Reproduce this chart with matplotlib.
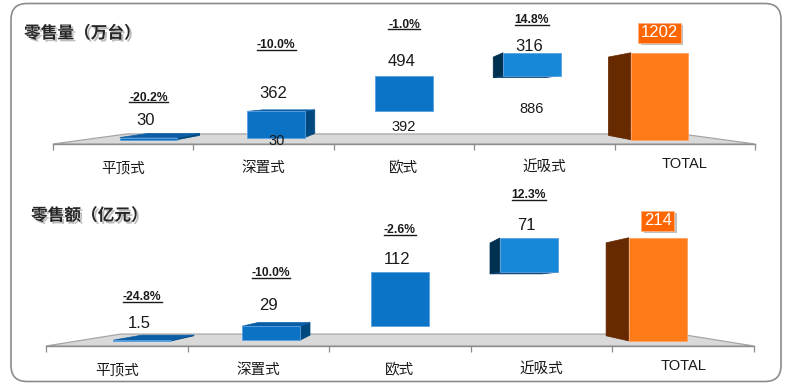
import numpy as np
import matplotlib
matplotlib.use("Agg")
import matplotlib.pyplot as plt
import matplotlib.patheffects as pe
from matplotlib.patches import Polygon, FancyBboxPatch, Rectangle
from matplotlib.lines import Line2D

plt.rcParams['font.family'] = ['Liberation Sans', 'Noto Sans CJK SC']

# ---------------- data ----------------
categories = ['平顶式', '深置式', '欧式', '近吸式', 'TOTAL']

vol_title = '零售量（万台）'
vol_values = [30, 362, 494, 316]
vol_total = 1202
vol_growth = ['-20.2%', '-10.0%', '-1.0%', '14.8%']

amt_title = '零售额（亿元）'
amt_values = [1.5, 29, 112, 71]
amt_total = 214
amt_growth = ['-24.8%', '-10.0%', '-2.6%', '12.3%']

# ---------------- style / layout ----------------
W, H = 790, 387
PT = 0.72  # points per pixel at dpi 100
D_FRONT, D_BACK, D_FLOOR = 0.91, 0.82, 0.79
BAR_W = 0.45
BLUE_FRONT = ['#0B6CB9', '#0B72C4', '#0B74C7', '#1787D7']
BLUE_SIDE = '#00497F'
BLUE_SIDE_L = '#003050'
BLUE_TOP = '#0A5EA6'
OR_FRONT = '#FF7B17'
OR_SIDE = '#662900'

fig = plt.figure(figsize=(W / 100, H / 100), dpi=100)
bg = fig.add_axes([0, 0, 1, 1], zorder=0)
bg.set_xlim(0, W)
bg.set_ylim(H, 0)
bg.axis('off')
bg.add_patch(FancyBboxPatch((11, 3.5), 770, 378,
                            boxstyle='round,pad=0,rounding_size=16',
                            fc='white', ec='#8C8C8C', lw=1.2))

panels = [
    dict(title=vol_title, values=vol_values, total=vol_total, growth=vol_growth,
         rect=(53, 10, 755, 144), ytop=1686, title_xy=(24, 33),
         val_off=[17, 18, 14, 6], pct_off=[40, 66, 51, 33],
         base_off=[3, 16, 33], box_off=20, floor_shadow=True),
    dict(title=amt_title, values=amt_values, total=amt_total, growth=amt_growth,
         rect=(46, 195, 754, 346), ytop=285, title_xy=(31, 215),
         val_off=[17, 21, 13, 12], pct_off=[43, 53, 42, 43],
         base_off=None, box_off=17, floor_shadow=False),
]
cat_off = [24, 24, 24, 24, 20]

pct_texts = []
box_texts = []

for p in panels:
    x0p, y0p, x1p, y1p = p['rect']
    ax = fig.add_axes([x0p / W, (H - y1p) / H, (x1p - x0p) / W, (y1p - y0p) / H], zorder=1)
    ax.set_facecolor('none')
    ax.set_xlim(-0.5, 4.5)
    ax.set_ylim(0, p['ytop'])
    for s in ax.spines.values():
        s.set_visible(False)
    ax.set_yticks([])
    ax.set_xticks(np.arange(-0.5, 5.0, 1.0))
    ax.tick_params(axis='x', length=4, width=0.9, color='#8C8C8C', labelbottom=False)

    total = p['total']
    vx, vy = 2.0, total * 0.5

    def P(x, y, d, vx=vx, vy=vy):
        return (vx + (x - vx) * d, vy + (y - vy) * d)

    # floor
    floor = [P(-0.5, 0, 1), P(4.5, 0, 1), P(4.5, 0, D_FLOOR), P(-0.5, 0, D_FLOOR)]
    ax.add_patch(Polygon(floor, closed=True, fc='#D9D9D9', ec='#A6A6A6', lw=0.9, zorder=1))
    ax.plot([-0.5, 4.5], [0, 0], color='#8C8C8C', lw=1.0, zorder=2, clip_on=False)

    vals = np.array(p['values'], dtype=float)
    bases = np.concatenate([[0.0], np.cumsum(vals)[:-1]])
    tops = bases + vals

    def draw_box(i, b, t, cf, cs, ct, cb):
        xa, xb = i - BAR_W / 2, i + BAR_W / 2
        F = [P(xa, b, D_FRONT), P(xb, b, D_FRONT), P(xb, t, D_FRONT), P(xa, t, D_FRONT)]
        B = [P(xa, b, D_BACK), P(xb, b, D_BACK), P(xb, t, D_BACK), P(xa, t, D_BACK)]
        faces = []
        if xb < vx:
            faces.append(([F[1], B[1], B[2], F[2]], cs))
        if xa > vx:
            faces.append(([F[0], B[0], B[3], F[3]], cs))
        if t < vy:
            faces.append(([F[3], F[2], B[2], B[3]], ct))
        if b > vy:
            faces.append(([F[0], F[1], B[1], B[0]], cb))
        for poly, c in faces:
            ax.add_patch(Polygon(poly, closed=True, fc=c, ec=c, lw=0.5, zorder=3, clip_on=False))
        ax.add_patch(Polygon(F, closed=True, fc=cf, ec='#5AA0E0' if cf != OR_FRONT else '#FFA060',
                             lw=0.6, zorder=4, clip_on=False))

    if p['floor_shadow']:
        # soft shadow on the floor below the third bar
        xa_pix = ax.transData.transform(P(2 - BAR_W / 2 - 0.05, 0, D_FRONT))
        xb_pix = ax.transData.transform(P(2 + BAR_W / 2 + 0.05, 0, D_FRONT))
        cx = (xa_pix[0] + xb_pix[0]) / 2
        wd = xb_pix[0] - xa_pix[0]
        for k, a in enumerate([0.18, 0.22, 0.3]):
            ww = wd * (1 - 0.12 * k)
            hh = 6 - 1.3 * k
            bg.add_patch(FancyBboxPatch((cx - ww / 2, y1p - 9.5 + 0.6 * k), ww, hh,
                                        boxstyle='round,pad=0,rounding_size=%.1f' % (hh / 2),
                                        fc='#808080', ec='none', alpha=a, zorder=0))

    for i in range(len(vals)):
        draw_box(i, bases[i], tops[i], BLUE_FRONT[i], BLUE_SIDE if i < 2 else BLUE_SIDE_L,
                 BLUE_TOP, '#0A3F6E')
    draw_box(4, 0, total, OR_FRONT, OR_SIDE, OR_SIDE, OR_SIDE)

    # value labels and growth labels
    for i in range(len(vals)):
        xy = P(i, tops[i], D_FRONT)
        ax.annotate(f'{vals[i]:g}', xy=xy, xytext=(-2, p['val_off'][i] * PT),
                    textcoords='offset points', ha='center', va='center',
                    fontsize=12, color='#1A1A1A', zorder=6, annotation_clip=False)
        t = ax.annotate(p['growth'][i], xy=xy, xytext=(0, p['pct_off'][i] * PT),
                        textcoords='offset points', ha='center', va='center',
                        fontsize=8.7, fontweight='bold', color='#1A1A1A', zorder=6,
                        annotation_clip=False)
        pct_texts.append(t)
    if p['base_off'] is not None:
        for j, i in enumerate(range(1, len(vals))):
            xy = P(i, bases[i], D_FRONT)
            ax.annotate(f'{bases[i]:g}', xy=xy, xytext=(0, -p['base_off'][j] * PT),
                        textcoords='offset points', ha='center', va='center',
                        fontsize=10.5, color='#1A1A1A', zorder=6, annotation_clip=False)
    bt = ax.annotate(f'{total:g}', xy=P(4, total, D_FRONT), xytext=(0, p['box_off'] * PT),
                     textcoords='offset points', ha='center', va='center',
                     fontsize=12, color='white', zorder=7, annotation_clip=False,
                     bbox=dict(boxstyle='square,pad=0.15', fc='#FF6600', ec='#FFB080', lw=0.6))
    box_texts.append(bt)

    # category labels
    for i, c in enumerate(categories):
        ax.annotate(c, xy=(i, 0), xytext=(0, -cat_off[i] * PT), textcoords='offset points',
                    ha='center', va='center', fontsize=10.5, color='#1A1A1A',
                    annotation_clip=False)

    # title with shadow
    tx, ty = p['title_xy']
    bg.text(tx, ty, p['title'], fontsize=12, fontweight='bold',
            color='#262626', ha='left', va='center', zorder=2,
            path_effects=[pe.SimplePatchShadow(offset=(1.5, -1.5), shadow_rgbFace='#BDBDBD', alpha=1.0),
                          pe.Normal()])

fig.canvas.draw()
r = fig.canvas.get_renderer()
for t in pct_texts:
    bb = t.get_window_extent(r)
    y = H - (bb.y0 + 1.2)
    bg.add_line(Line2D([bb.x0, bb.x1], [y, y], color='#1A1A1A', lw=1.0, zorder=3))
for t in box_texts:
    bb = t.get_bbox_patch().get_window_extent(r)
    bg.add_patch(Rectangle((bb.x0 + 2.5, H - bb.y1 + 2.5), bb.width, bb.height,
                           fc='#B0B0B0', ec='none', alpha=0.8, zorder=1))

fig.savefig('out.png', dpi=100)
